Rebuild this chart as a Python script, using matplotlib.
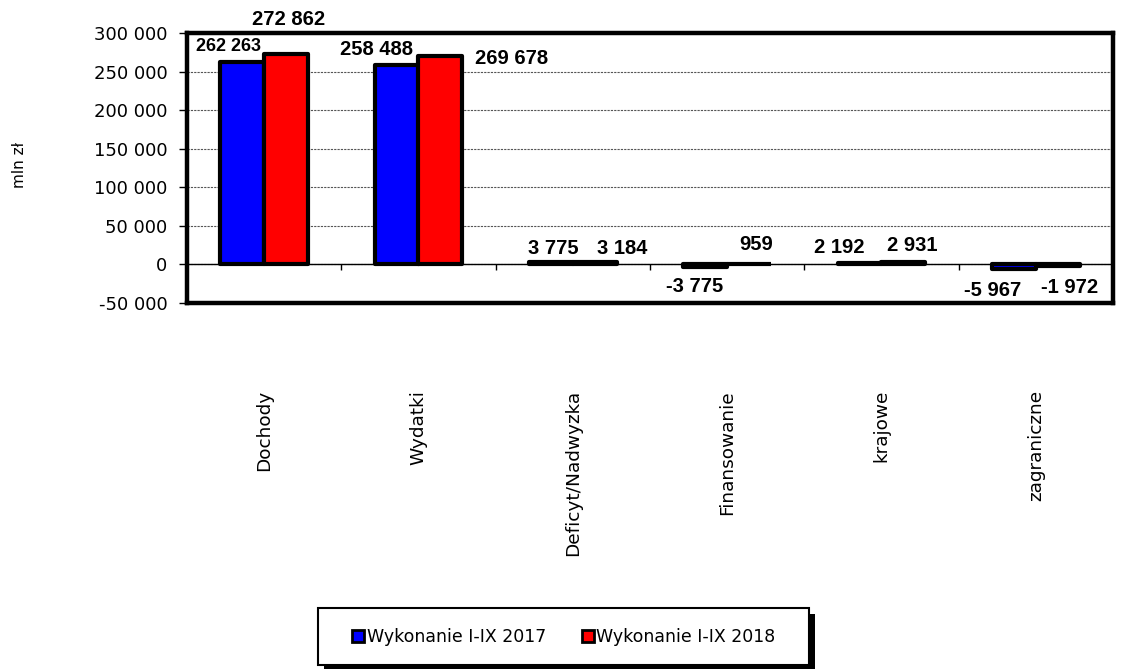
import matplotlib.pyplot as plt
import matplotlib.transforms as mtransforms
from matplotlib.lines import Line2D
from matplotlib.patches import Rectangle
from matplotlib.ticker import FuncFormatter, MultipleLocator
import numpy as np

categories = ['Dochody', 'Wydatki', 'Deficyt/Nadwyzka', 'Finansowanie', 'krajowe', 'zagraniczne']
values_2017 = [262263, 258488, 3775, -3775, 2192, -5967]
values_2018 = [272862, 269678, 3184, 959, 2931, -1972]
series_names = ['Wykonanie I-IX 2017', 'Wykonanie I-IX 2018']

# przesunięcia etykiet (piksele) - jak w oryginale z Excela
offsets_2017 = [(-14, 16), (-20, 16), (2, 13), (-11, -19), (-20, 15), (-21, -21)]
offsets_2018 = [(2, 34), (71, -2), (27, 13), (7, 19), (9, 17), (12, -22)]

def fmt(v, pos=None):
    return f"{int(v):,}".replace(",", " ")

W, H = 1124, 669
fig = plt.figure(figsize=(W / 100, H / 100), dpi=100)
ax = fig.add_axes([187 / W, 1 - 303 / H, (1113 - 187) / W, (303 - 33) / H])

x = np.arange(len(categories))
w = 0.285

bars1 = ax.bar(x - w / 2, values_2017, w, color='#0000ff', edgecolor='black', linewidth=3, zorder=3)
bars2 = ax.bar(x + w / 2, values_2018, w, color='#ff0000', edgecolor='black', linewidth=3, zorder=3)
for b in list(bars1) + list(bars2):
    b.set_joinstyle('round')

ax.set_xlim(-0.5, len(categories) - 0.5)
ax.set_ylim(-50000, 300000)
ax.yaxis.set_major_locator(MultipleLocator(50000))
ax.yaxis.set_major_formatter(FuncFormatter(fmt))
ax.tick_params(axis='y', labelsize=13, length=6, width=1, direction='out', pad=8)
ax.set_xticks([])

ax.grid(axis='y', linestyle=(0, (2, 1)), color='#555555', linewidth=0.8, zorder=0)
for s in ax.spines.values():
    s.set_linewidth(3.2)

# oś kategorii w zerze
ax.axhline(0, color='black', linewidth=1, zorder=2)
ax.vlines(x[:-1] + 0.5, -7000, 0, color='black', linewidth=1, zorder=2)

for bars, vals, offs in [(bars1, values_2017, offsets_2017), (bars2, values_2018, offsets_2018)]:
    for i, (b, v) in enumerate(zip(bars, vals)):
        dx, dy = offs[i]
        fs = 13 if (bars is bars1 and i == 0) else 14.5
        ax.annotate(fmt(v), (b.get_x() + b.get_width() / 2, v),
                    xytext=(dx, dy), textcoords='offset pixels',
                    ha='center', va='center', fontsize=fs, fontweight='bold',
                    family='Liberation Sans', annotation_clip=False, zorder=5)

trans = mtransforms.blended_transform_factory(ax.transData, ax.transAxes)
for i, c in enumerate(categories):
    ax.text(x[i], -0.322, c, transform=trans, rotation=90, ha='center', va='top', fontsize=13.3)

fig.text(20 / W, 1 - 165 / H, 'mln zł', rotation=90, ha='center', va='center', fontsize=11)

# ramka legendy z cieniem
fig.patches.append(Rectangle((324 / W, 1 - 671 / H), (809 - 318) / W, (665 - 608) / H,
                             transform=fig.transFigure, facecolor='black', edgecolor='none', zorder=1))
fig.patches.append(Rectangle((318 / W, 1 - 665 / H), (809 - 318) / W, (665 - 608) / H,
                             transform=fig.transFigure, facecolor='white', edgecolor='black',
                             linewidth=1.5, zorder=2))

handles = [
    Line2D([], [], linestyle='none', marker='s', markersize=8, markerfacecolor='#0000ff',
           markeredgecolor='black', markeredgewidth=2),
    Line2D([], [], linestyle='none', marker='s', markersize=8, markerfacecolor='#ff0000',
           markeredgecolor='black', markeredgewidth=2),
]
leg = fig.legend(handles, series_names, loc='center', bbox_to_anchor=(563.5 / W, 1 - 637 / H),
                 ncol=2, fontsize=12.5, frameon=False,
                 handlelength=0.8, handletextpad=0.1, columnspacing=2.0)

fig.savefig('out.png', dpi=100)
